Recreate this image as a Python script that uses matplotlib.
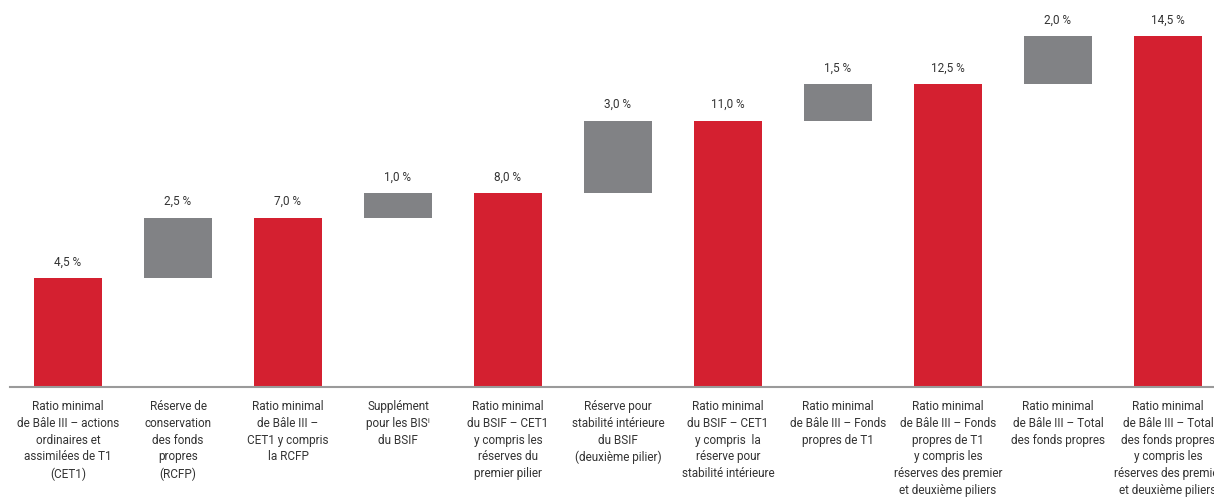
import matplotlib
matplotlib.use("Agg")
import matplotlib.pyplot as plt
from matplotlib import font_manager

categories = [
    "Ratio minimal\nde Bâle III – actions\nordinaires et\nassimilées de T1\n(CET1)",
    "Réserve de\nconservation\ndes fonds\npropres\n(RCFP)",
    "Ratio minimal\nde Bâle III –\nCET1 y compris\nla RCFP",
    "Supplément\npour les BISⁱ\ndu BSIF",
    "Ratio minimal\ndu BSIF – CET1\ny compris les\nréserves du\npremier pilier",
    "Réserve pour\nstabilité intérieure\ndu BSIF\n(deuxième pilier)",
    "Ratio minimal\ndu BSIF – CET1\ny compris  la\nréserve pour\nstabilité intérieure",
    "Ratio minimal\nde Bâle III – Fonds\npropres de T1",
    "Ratio minimal\nde Bâle III – Fonds\npropres de T1\ny compris les\nréserves des premier\net deuxième piliers",
    "Ratio minimal\nde Bâle III – Total\ndes fonds propres",
    "Ratio minimal\nde Bâle III – Total\ndes fonds propres\ny compris les\nréserves des premier\net deuxième piliers",
]
values = [4.5, 2.5, 7.0, 1.0, 8.0, 3.0, 11.0, 1.5, 12.5, 2.0, 14.5]
is_total = [True, False, True, False, True, False, True, False, True, False, True]
value_labels = ["4,5 %", "2,5 %", "7,0 %", "1,0 %", "8,0 %", "3,0 %",
                "11,0 %", "1,5 %", "12,5 %", "2,0 %", "14,5 %"]

RED = "#D42030"
GREY = "#818285"
TXT = "#333333"

avail = {f.name for f in font_manager.fontManager.ttflist}
fam = [f for f in ["Liberation Sans Narrow", "Roboto", "DejaVu Sans"] if f in avail]
plt.rcParams["font.family"] = fam

W, H = 1214, 503
fig = plt.figure(figsize=(W / 100, H / 100), dpi=100)
ax_left, ax_right = 10, 1214
base_y, top_y = 387, 36
ax = fig.add_axes([ax_left / W, (H - base_y) / H, (ax_right - ax_left) / W, (base_y - top_y) / H])

spacing = 110
first_c = 68
ax.set_xlim((ax_left - first_c) / spacing, (ax_right - first_c) / spacing)
ax.set_ylim(0, 14.5)

bottoms = []
running = 0.0
for v, t in zip(values, is_total):
    if t:
        bottoms.append(0.0)
        running = v
    else:
        bottoms.append(running)
        running = running + v

xs = list(range(len(values)))
for x, v, b, t, lab in zip(xs, values, bottoms, is_total, value_labels):
    ax.bar(x, v, bottom=b, width=68 / spacing, color=RED if t else GREY, zorder=2)
    ax.annotate(lab, (x, b + v), xytext=(0, 16), textcoords="offset pixels",
                ha="center", va="center", fontsize=8.5, color=TXT, annotation_clip=False)

for x, c in zip(xs, categories):
    ax.annotate(c, (x, 0), xytext=(0, -13), textcoords="offset pixels",
                ha="center", va="top", fontsize=8.5, color=TXT, linespacing=1.38,
                annotation_clip=False)

for s in ["top", "right", "left"]:
    ax.spines[s].set_visible(False)
ax.spines["bottom"].set_color("#9a9a9a")
ax.spines["bottom"].set_linewidth(1.5)
ax.set_xticks([])
ax.set_yticks([])

fig.savefig("out.png", dpi=100)
